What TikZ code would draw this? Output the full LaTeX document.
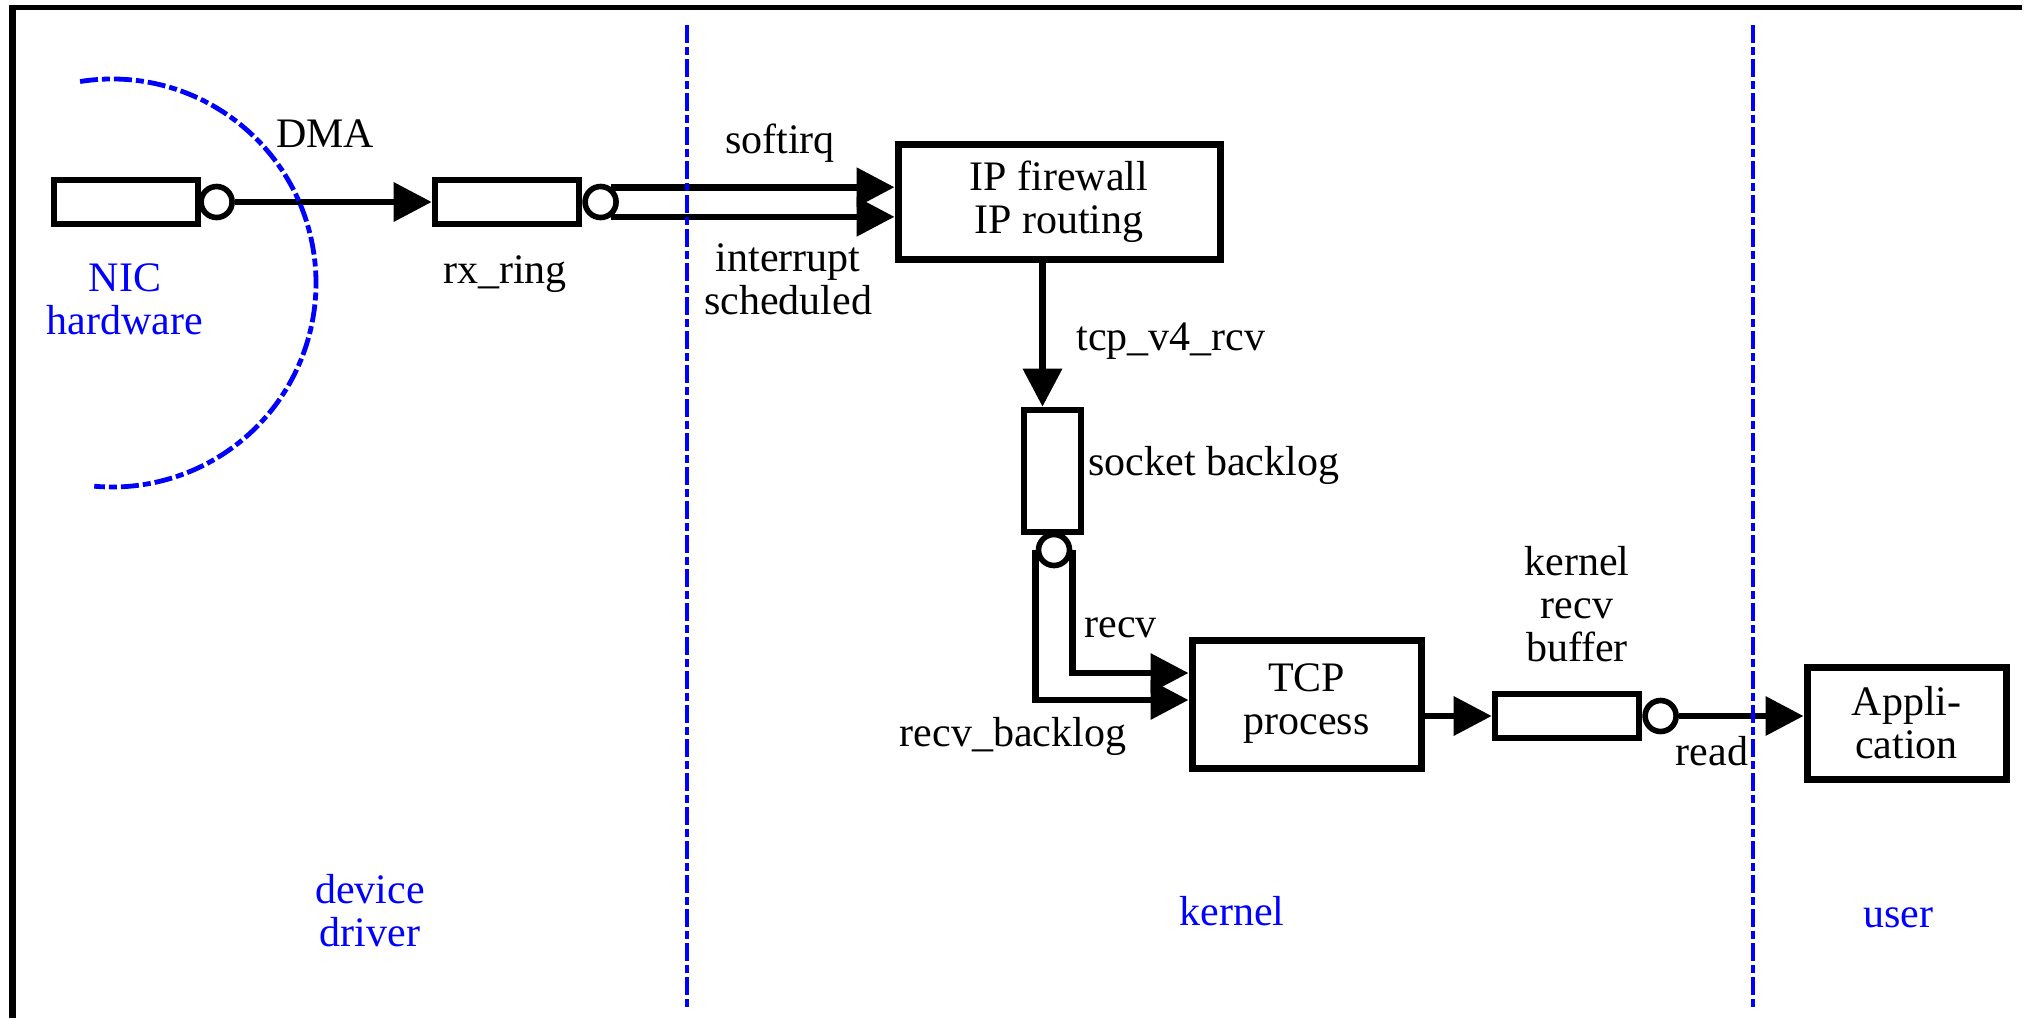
\documentclass[tikz,border=0pt]{standalone}
\usepackage{fontspec}
\setmainfont{Liberation Serif}
\usepackage{tikz}
\usetikzlibrary{positioning,arrows.meta}

\begin{document}
\begin{tikzpicture}[x=0.5pt,y=-0.5pt,
      font=\fontsize{21}{21.5}\selectfont,
      qbox/.style={draw,line width=3.3pt,minimum width=72pt,minimum height=22pt,inner sep=0pt},
      blk/.style={draw,line width=3.5pt,align=center,inner sep=0pt},
      port/.style={circle,draw,fill=white,line width=2.8pt,minimum size=15.5pt,inner sep=0pt},
      conn/.style={line width=3.3pt,-{Triangle[length=19pt,width=19pt]}},
      lbl/.style={inner sep=0pt,align=center},
      zone/.style={lbl,text=blue},
      divider/.style={blue,line width=2.4pt,dash pattern=on 9pt off 2pt on 4pt off 2pt}]
    \useasboundingbox (0,0) rectangle (2027,1018);
    % frame
    \draw[line width=2.5pt] (9,7) -- (2022,7);
    \draw[line width=3.5pt] (12.5,5) -- (12.5,1018);
    % queues and stages
    \node[qbox] (nicq) at (126,202) {};
    \node[port,right=-1.5pt of nicq] (nicc) {};
    \node[qbox] (rxq) at (507,202) {};
    \node[port,right=0pt of rxq] (rxc) {};
    \node[blk,minimum width=161pt,minimum height=57.5pt] (ip) at (1059,201.5) {IP firewall\\IP routing};
    \node[qbox,minimum width=28.5pt,minimum height=61pt] (sockq) at (1052.5,471) {};
    \node[port] (sockc) at (1054,550) {};
    \node[blk,minimum width=114.5pt,minimum height=64pt] (tcp) at (1306.5,704) {TCP\\process};
    \node[qbox] (bufq) at (1567,716) {};
    \node[port,right=0pt of bufq] (bufc) {};
    \node[blk,minimum width=99.5pt,minimum height=56pt] (app) at (1906.5,723) {Appli-\\cation};
    % labels
    \node[lbl,anchor=base] (lbldma) at (325,147) {DMA};
    \node[lbl,anchor=base] (lblrx) at (505,283) {rx\_ring};
    \node[lbl,anchor=base] (lblsoft) at (780,153) {softirq};
    \node[lbl] (lblint) at (788,279) {interrupt\\scheduled};
    \node[lbl,anchor=base] (lbltcpv) at (1171,350) {tcp\_v4\_rcv};
    \node[lbl,anchor=base west] (lblback) at (1088,475) {socket backlog};
    \node[lbl,anchor=base west] (lblrecv) at (1084,637) {recv};
    \node[lbl,anchor=base] (lblrbl) at (1013,746) {recv\_backlog};
    \node[lbl] (lblkbuf) at (1577,604) {kernel\\recv\\buffer};
    \node[lbl,anchor=base] (lblread) at (1712,765) {read};
    \node[zone] (lblnic) at (125,299) {NIC\\hardware};
    \node[zone] (lbldev) at (370,911) {device\\driver};
    \node[zone,anchor=base] (lblkern) at (1232,925) {kernel};
    \node[zone,anchor=base] (lbluser) at (1898,927) {user};
    % data path
    \draw[conn] (nicc) -- (rxq);
    \draw[conn] (rxc.54) -- (rxc.54 -| ip.west);
    \draw[conn] (rxc.306) -- (rxc.306 -| ip.west);
    \coordinate (sockin) at ([xshift=-5pt]sockq.north);
    \draw[conn] (ip.south -| sockin) -- (sockin);
    \draw[conn] (sockc.east) |- ([yshift=15.5pt]tcp.west);
    \draw[conn] (sockc.west) |- ([yshift=2pt]tcp.west);
    \draw[conn] (tcp.east |- bufq) -- (bufq);
    \draw[conn] (bufc) -- (bufc -| app.west);
    % boundaries
    \foreach \dx in {687,1753}
      \draw[divider] (\dx,25) -- (\dx,1010);
    \draw[divider] (112,283) ++(99:102pt) arc[start angle=99,end angle=-95,radius=102pt];
  \end{tikzpicture}
\end{document}
